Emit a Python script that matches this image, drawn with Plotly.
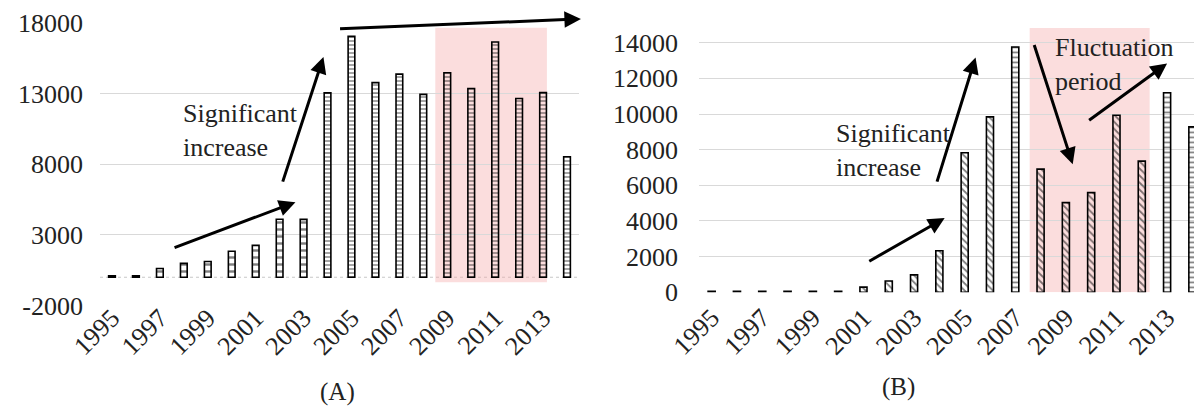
import plotly.graph_objects as go

# ---------------- data ----------------
years = list(range(1995, 2015))
values_a = [100, 100, 620, 980, 1120, 1840, 2260, 4110, 4100, 13050, 17050,
            13780, 14380, 12950, 14480, 13360, 16650, 12650, 13070, 8530]
values_b = [60, 60, 60, 60, 60, 60, 290, 630, 980, 2330, 7830, 9840, 13760,
            6910, 5030, 5590, 9930, 7360, 11190, 9280]
pattern_a = ["-"] * 20
size_a = [7] * 9 + [4] * 11
pattern_b = ["\\"] * 12 + ["-"] + ["\\"] * 5 + ["-", "-"]
size_b = [5] * 20
yticks_a = [-2000, 3000, 8000, 13000, 18000]
ytext_a = ["-2000", "3000", "8000", "13000", "18000"]
yticks_b = [0, 2000, 4000, 6000, 8000, 10000, 12000, 14000]
ytext_b = ["0", "2000", "4000", "6000", "8000", "10000", "12000", "14000"]
xticks = [1995, 1997, 1999, 2001, 2003, 2005, 2007, 2009, 2011, 2013]
xtext = [str(v) for v in xticks]

FONT = "Times New Roman, Liberation Serif, DejaVu Serif, serif"
TXT = "#222222"
GRID = "#d9d9d9"
PINK = "rgba(246,170,170,0.40)"

# the page body adds an 8px margin; lay out in window pixels minus that
OFF = 8
WIN_W, WIN_H = 1202, 407
W, H = WIN_W - OFF, WIN_H - OFF


def fx(p):
    return (p - OFF) / W


def fy(p):
    return 1 - (p - OFF) / H


fig = go.Figure()


def bars(y, shapes, sizes, xa, ya):
    return go.Bar(
        x=years, y=y, xaxis=xa, yaxis=ya, width=0.28,
        marker=dict(
            color="black",
            line=dict(color="black", width=1.6),
            pattern=dict(shape=shapes, size=sizes, solidity=0.35,
                         fgcolor="black", bgcolor="rgba(255,255,255,0)"),
        ),
        showlegend=False, hoverinfo="x+y",
    )


fig.add_trace(bars(values_a, pattern_a, size_a, "x", "y"))
fig.add_trace(bars(values_b, pattern_b, size_b, "x2", "y2"))

axis_font = dict(family=FONT, size=26, color=TXT)

fig.update_layout(
    width=W, height=H, autosize=False,
    margin=dict(l=0, r=0, t=0, b=0),
    paper_bgcolor="white", plot_bgcolor="rgba(0,0,0,0)",
    font=dict(family=FONT, size=26, color=TXT),
    xaxis=dict(domain=[fx(100), fx(579)], range=[1994.5, 2014.5],
               tickvals=xticks, ticktext=xtext, tickangle=-45,
               tickfont=axis_font, automargin=False,
               showgrid=False, zeroline=False, showline=False,
               ticks="", ticklabelstandoff=-9, anchor="y"),
    yaxis=dict(domain=[fy(305.5), fy(23)], range=[-2000, 18000],
               tickvals=yticks_a, ticktext=ytext_a, tickfont=axis_font,
               automargin=False, showgrid=True,
               gridcolor=GRID, gridwidth=1.2, zeroline=False,
               ticks="", ticklabelstandoff=16, anchor="x"),
    xaxis2=dict(domain=[fx(699), 1.0], range=[1994.5, 2014.38],
                tickvals=xticks, ticktext=xtext, tickangle=-45,
                tickfont=axis_font, automargin=False,
                showgrid=False, zeroline=False, showline=False,
                ticks="", ticklabelstandoff=4, anchor="y2"),
    yaxis2=dict(domain=[fy(292.3), fy(24.9)], range=[0, 15000],
                tickvals=yticks_b, ticktext=ytext_b, tickfont=axis_font,
                automargin=False, showgrid=True,
                gridcolor=GRID, gridwidth=1.2, zeroline=False,
                ticks="", ticklabelstandoff=20, anchor="x2"),
)

# shaded fluctuation periods
fig.add_shape(type="rect", xref="x", yref="y", x0=2008.5, x1=2013.16,
              y0=-350, y1=17660, fillcolor=PINK, line=dict(width=0),
              layer="below")
fig.add_shape(type="rect", xref="x2", yref="y2", x0=2007.57, x1=2012.31,
              y0=0, y1=14820, fillcolor=PINK, line=dict(width=0),
              layer="below")
# dotted zero line in panel A
fig.add_shape(type="line", xref="x domain", yref="y", x0=0, x1=1, y0=0, y1=0,
              line=dict(color="#c8c8c8", width=1.2, dash="dot"), layer="below")


def arrow(xa, ya, tail, head):
    fig.add_annotation(
        xref=xa, yref=ya, axref=xa, ayref=ya,
        x=head[0], y=head[1], ax=tail[0], ay=tail[1],
        text="", showarrow=True, arrowhead=2, arrowsize=1.1,
        arrowwidth=3, arrowcolor="black", standoff=0, startstandoff=0,
    )


# panel A arrows
arrow("x", "y", (1997.55, 2056), (2002.66, 5318))
arrow("x", "y", (2002.11, 6665), (2003.83, 15600))
arrow("x", "y", (2004.46, 17580), (2014.58, 18290))
# panel B arrows
arrow("x2", "y2", (2001.17, 1697), (2004.21, 4161))
arrow("x2", "y2", (2003.89, 6121), (2005.43, 13177))
arrow("x2", "y2", (2007.73, 13961), (2009.27, 7185))
arrow("x2", "y2", (2009.86, 9593), (2013.0, 12841))

text_font = dict(family=FONT, size=26, color=TXT)
fig.add_annotation(xref="x", yref="y", x=1997.9, y=10387,
                   text="Significant<br>increase", showarrow=False,
                   xanchor="left", yanchor="middle", align="left",
                   font=text_font)
fig.add_annotation(xref="x2", yref="y2", x=1999.82, y=7969,
                   text="Significant<br>increase", showarrow=False,
                   xanchor="left", yanchor="middle", align="left",
                   font=text_font)
fig.add_annotation(xref="x2", yref="y2", x=2008.48, y=12757,
                   text="Fluctuation<br>period", showarrow=False,
                   xanchor="left", yanchor="middle", align="left",
                   font=text_font)

# panel captions
fig.add_annotation(xref="paper", yref="paper", x=fx(337), y=fy(392),
                   text="(A)", showarrow=False, xanchor="center",
                   yanchor="middle", font=dict(family=FONT, size=25, color=TXT))
fig.add_annotation(xref="paper", yref="paper", x=fx(898), y=fy(387),
                   text="(B)", showarrow=False, xanchor="center",
                   yanchor="middle", font=dict(family=FONT, size=25, color=TXT))

fig.write_html("out.html")
